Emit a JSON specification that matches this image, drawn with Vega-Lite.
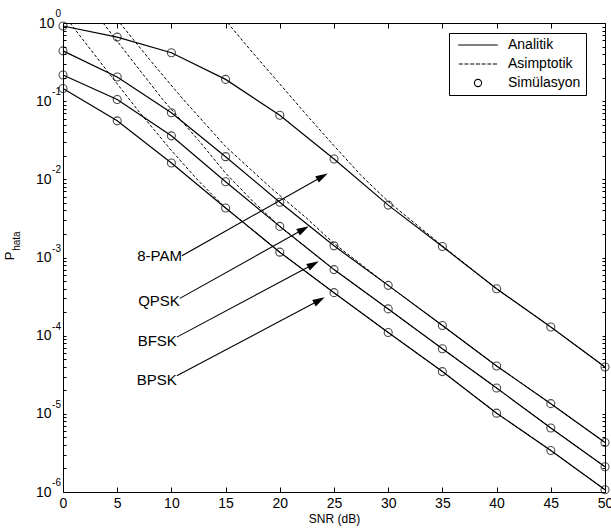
{
  "$schema": "https://vega.github.io/schema/vega-lite/v6.json",
  "width": 542,
  "height": 469,
  "autosize": {"type": "none"},
  "padding": {"left": 63, "top": 23, "right": 6, "bottom": 37},
  "background": "white",
  "config": {"view": {"stroke": "black", "strokeWidth": 1}, "font": "Liberation Sans"},
  "resolve": {"axis": {"x": "independent", "y": "independent"}},
  "datasets": {
    "analitik": [
      {"m": "8-PAM", "snr": 0, "p": 0.916}, {"m": "8-PAM", "snr": 5, "p": 0.66}, {"m": "8-PAM", "snr": 10, "p": 0.417}, {"m": "8-PAM", "snr": 15, "p": 0.19}, {"m": "8-PAM", "snr": 20, "p": 0.066}, {"m": "8-PAM", "snr": 25, "p": 0.0182}, {"m": "8-PAM", "snr": 30, "p": 0.00468}, {"m": "8-PAM", "snr": 35, "p": 0.00138}, {"m": "8-PAM", "snr": 40, "p": 0.000398}, {"m": "8-PAM", "snr": 45, "p": 0.000129}, {"m": "8-PAM", "snr": 50, "p": 0.0000398},
      {"m": "QPSK", "snr": 0, "p": 0.44}, {"m": "QPSK", "snr": 5, "p": 0.204}, {"m": "QPSK", "snr": 10, "p": 0.071}, {"m": "QPSK", "snr": 15, "p": 0.0195}, {"m": "QPSK", "snr": 20, "p": 0.0051}, {"m": "QPSK", "snr": 25, "p": 0.00141}, {"m": "QPSK", "snr": 30, "p": 0.00044}, {"m": "QPSK", "snr": 35, "p": 0.000135}, {"m": "QPSK", "snr": 40, "p": 0.000041}, {"m": "QPSK", "snr": 45, "p": 0.0000135}, {"m": "QPSK", "snr": 50, "p": 0.0000043},
      {"m": "BFSK", "snr": 0, "p": 0.216}, {"m": "BFSK", "snr": 5, "p": 0.105}, {"m": "BFSK", "snr": 10, "p": 0.036}, {"m": "BFSK", "snr": 15, "p": 0.0093}, {"m": "BFSK", "snr": 20, "p": 0.0025}, {"m": "BFSK", "snr": 25, "p": 0.0007}, {"m": "BFSK", "snr": 30, "p": 0.00022}, {"m": "BFSK", "snr": 35, "p": 0.000068}, {"m": "BFSK", "snr": 40, "p": 0.0000214}, {"m": "BFSK", "snr": 45, "p": 0.0000066}, {"m": "BFSK", "snr": 50, "p": 0.0000021},
      {"m": "BPSK", "snr": 0, "p": 0.145}, {"m": "BPSK", "snr": 5, "p": 0.056}, {"m": "BPSK", "snr": 10, "p": 0.0162}, {"m": "BPSK", "snr": 15, "p": 0.0043}, {"m": "BPSK", "snr": 20, "p": 0.00117}, {"m": "BPSK", "snr": 25, "p": 0.000355}, {"m": "BPSK", "snr": 30, "p": 0.00011}, {"m": "BPSK", "snr": 35, "p": 0.0000347}, {"m": "BPSK", "snr": 40, "p": 0.0000102}, {"m": "BPSK", "snr": 45, "p": 0.0000034}, {"m": "BPSK", "snr": 50, "p": 0.00000107}
    ],
    "asimptotik": [
      {"m": "8-PAM", "snr": 15.2, "p": 1}, {"m": "8-PAM", "snr": 17.5, "p": 0.417}, {"m": "8-PAM", "snr": 20, "p": 0.166}, {"m": "8-PAM", "snr": 22.5, "p": 0.066}, {"m": "8-PAM", "snr": 25, "p": 0.0269}, {"m": "8-PAM", "snr": 27.5, "p": 0.0112}, {"m": "8-PAM", "snr": 30, "p": 0.0052}, {"m": "8-PAM", "snr": 35, "p": 0.00141}, {"m": "8-PAM", "snr": 40, "p": 0.000398}, {"m": "8-PAM", "snr": 45, "p": 0.000129}, {"m": "8-PAM", "snr": 50, "p": 0.0000398},
      {"m": "QPSK", "snr": 5.25, "p": 1}, {"m": "QPSK", "snr": 8, "p": 0.339}, {"m": "QPSK", "snr": 11.1, "p": 0.105}, {"m": "QPSK", "snr": 15, "p": 0.0263}, {"m": "QPSK", "snr": 19.1, "p": 0.00794}, {"m": "QPSK", "snr": 22.5, "p": 0.00316}, {"m": "QPSK", "snr": 25, "p": 0.00151}, {"m": "QPSK", "snr": 30, "p": 0.00044}, {"m": "QPSK", "snr": 35, "p": 0.000135}, {"m": "QPSK", "snr": 40, "p": 0.000041}, {"m": "QPSK", "snr": 45, "p": 0.0000135}, {"m": "QPSK", "snr": 50, "p": 0.0000043},
      {"m": "BFSK", "snr": 3.7, "p": 1}, {"m": "BFSK", "snr": 6.5, "p": 0.316}, {"m": "BFSK", "snr": 9.2, "p": 0.105}, {"m": "BFSK", "snr": 12.5, "p": 0.0316}, {"m": "BFSK", "snr": 15, "p": 0.012}, {"m": "BFSK", "snr": 17.5, "p": 0.00525}, {"m": "BFSK", "snr": 20, "p": 0.0025}, {"m": "BFSK", "snr": 25, "p": 0.0007}, {"m": "BFSK", "snr": 30, "p": 0.00022}, {"m": "BFSK", "snr": 35, "p": 0.000068}, {"m": "BFSK", "snr": 40, "p": 0.0000214}, {"m": "BFSK", "snr": 45, "p": 0.0000066}, {"m": "BFSK", "snr": 50, "p": 0.0000021},
      {"m": "BPSK", "snr": 0.65, "p": 1}, {"m": "BPSK", "snr": 4, "p": 0.251}, {"m": "BPSK", "snr": 7.1, "p": 0.0708}, {"m": "BPSK", "snr": 10, "p": 0.0234}, {"m": "BPSK", "snr": 12.5, "p": 0.00955}, {"m": "BPSK", "snr": 15, "p": 0.0043}, {"m": "BPSK", "snr": 20, "p": 0.00117}, {"m": "BPSK", "snr": 25, "p": 0.000355}, {"m": "BPSK", "snr": 30, "p": 0.00011}, {"m": "BPSK", "snr": 35, "p": 0.0000347}, {"m": "BPSK", "snr": 40, "p": 0.0000102}, {"m": "BPSK", "snr": 45, "p": 0.0000034}, {"m": "BPSK", "snr": 50, "p": 0.00000107}
    ],
    "oklar": [
      {"m": "8-PAM", "x1": 10.97, "y1": 0.00105, "x2": 23.93, "y2": 0.0109, "ly": 0.00105},
      {"m": "QPSK", "x1": 10.78, "y1": 0.0003, "x2": 22.18, "y2": 0.0023, "ly": 0.000279},
      {"m": "BFSK", "x1": 10.5, "y1": 0.0000958, "x2": 23.1, "y2": 0.000818, "ly": 0.0000859},
      {"m": "BPSK", "x1": 10.5, "y1": 0.0000308, "x2": 23.65, "y2": 0.000284, "ly": 0.0000272}
    ],
    "us": [
      {"v": 1, "e": "0"}, {"v": 0.1, "e": "-1"}, {"v": 0.01, "e": "-2"}, {"v": 0.001, "e": "-3"}, {"v": 0.0001, "e": "-4"}, {"v": 0.00001, "e": "-5"}, {"v": 0.000001, "e": "-6"}
    ],
    "lejant": [{"k": "Analitik"}, {"k": "Asimptotik"}, {"k": "Simülasyon"}]
  },
  "layer": [
    {
      "data": {"name": "asimptotik"},
      "mark": {"type": "line", "color": "black", "strokeWidth": 1, "strokeDash": [3, 2], "clip": true},
      "encoding": {
        "x": {"field": "snr", "type": "quantitative", "scale": {"domain": [0, 50], "nice": false},
          "axis": {"orient": "bottom", "title": "SNR (dB)", "values": [0,5,10,15,20,25,30,35,40,45,50], "grid": false, "domain": false, "tickSize": -5, "tickColor": "black", "labelColor": "black", "labelFont": "Liberation Sans", "labelFontSize": 14, "titleFont": "Liberation Sans", "titleFontSize": 12, "titleFontWeight": "normal", "titleColor": "black", "labelPadding": 9, "titlePadding": 3, "labelFlush": false, "labelOverlap": false}},
        "y": {"field": "p", "type": "quantitative", "scale": {"type": "log", "domain": [0.000001, 1], "nice": false},
          "axis": {"orient": "left", "title": null, "values": [0.000001,0.000002,0.000003,0.000004,0.000005,0.000006,0.000007,0.000008,0.000009,0.00001,0.00002,0.00003,0.00004,0.00005,0.00006,0.00007,0.00008,0.00009,0.0001,0.0002,0.0003,0.0004,0.0005,0.0006,0.0007,0.0008,0.0009,0.001,0.002,0.003,0.004,0.005,0.006,0.007,0.008,0.009,0.01,0.02,0.03,0.04,0.05,0.06,0.07,0.08,0.09,0.1,0.2,0.3,0.4,0.5,0.6,0.7,0.8,0.9,1],
            "labelExpr": "abs(log(datum.value)/LN10 - round(log(datum.value)/LN10)) < 0.001 ? '10' : ''",
            "grid": false, "domain": false, "tickSize": -3, "tickColor": "black", "labelColor": "black", "labelFont": "Liberation Sans", "labelFontSize": 14, "labelPadding": {"condition": {"test": "datum.value == 1", "value": 12}, "value": 15}, "labelBaseline": "middle", "labelOverlap": false, "labelFlush": false}},
        "detail": {"field": "m"},
        "order": {"field": "snr", "type": "quantitative"}
      }
    },
    {
      "data": {"name": "analitik"},
      "mark": {"type": "line", "color": "black", "strokeWidth": 1.2},
      "encoding": {
        "x": {"field": "snr", "type": "quantitative", "axis": null},
        "y": {"field": "p", "type": "quantitative", "axis": null},
        "detail": {"field": "m"}
      }
    },
    {
      "data": {"name": "analitik"},
      "mark": {"type": "point", "shape": "circle", "size": 64, "color": "black", "strokeWidth": 1.1, "filled": false, "clip": false},
      "encoding": {
        "x": {"field": "snr", "type": "quantitative", "axis": null},
        "y": {"field": "p", "type": "quantitative", "axis": null}
      }
    },
    {
      "data": {"name": "oklar"},
      "mark": {"type": "rule", "color": "black", "strokeWidth": 1.1},
      "encoding": {
        "x": {"field": "x1", "type": "quantitative", "axis": null},
        "y": {"field": "y1", "type": "quantitative", "axis": null},
        "x2": {"field": "x2"},
        "y2": {"field": "y2"}
      }
    },
    {
      "data": {"name": "oklar"},
      "mark": {"type": "point", "shape": "M1,0L-1,-0.6L-1,0.6Z", "size": 150, "angle": -29, "filled": true, "color": "black", "opacity": 1},
      "encoding": {
        "x": {"field": "x2", "type": "quantitative", "axis": null},
        "y": {"field": "y2", "type": "quantitative", "axis": null}
      }
    },
    {
      "data": {"name": "oklar"},
      "mark": {"type": "text", "align": "right", "baseline": "middle", "fontSize": 15, "font": "Liberation Sans", "color": "black"},
      "encoding": {
        "x": {"field": "x1", "type": "quantitative", "axis": null},
        "y": {"field": "ly", "type": "quantitative", "axis": null},
        "text": {"field": "m"}
      }
    },
    {
      "data": {"name": "us"},
      "mark": {"type": "text", "align": "right", "baseline": "middle", "fontSize": 10, "font": "Liberation Sans", "color": "black", "dx": -2, "dy": -9, "clip": false},
      "encoding": {
        "x": {"datum": 0, "type": "quantitative", "axis": null},
        "y": {"field": "v", "type": "quantitative", "axis": null},
        "text": {"field": "e"}
      }
    },
    {
      "data": {"values": [{}]},
      "mark": {"type": "text", "text": "P", "angle": 270, "align": "center", "baseline": "middle", "fontSize": 13, "font": "Liberation Sans", "color": "black", "clip": false},
      "encoding": {
        "x": {"datum": -4.89, "type": "quantitative", "axis": null},
        "y": {"datum": 0.00105, "type": "quantitative", "axis": null}
      }
    },
    {
      "data": {"values": [{}]},
      "mark": {"type": "text", "text": "hata", "angle": 270, "align": "center", "baseline": "middle", "fontSize": 10, "font": "Liberation Sans", "color": "black", "clip": false},
      "encoding": {
        "x": {"datum": -4.2, "type": "quantitative", "axis": null},
        "y": {"datum": 0.00162, "type": "quantitative", "axis": null}
      }
    },
    {
      "data": {"name": "lejant"},
      "mark": {"type": "point", "color": "black", "filled": false, "clip": true, "strokeWidth": 1.1},
      "encoding": {
        "x": {"datum": -20, "type": "quantitative",
          "axis": {"orient": "top", "title": null, "values": [0,5,10,15,20,25,30,35,40,45,50], "labels": false, "grid": false, "domain": false, "tickSize": -5, "tickColor": "black"}},
        "y": {"datum": 0.5, "type": "quantitative",
          "axis": {"orient": "right", "title": null, "values": [0.000001,0.000002,0.000003,0.000004,0.000005,0.000006,0.000007,0.000008,0.000009,0.00001,0.00002,0.00003,0.00004,0.00005,0.00006,0.00007,0.00008,0.00009,0.0001,0.0002,0.0003,0.0004,0.0005,0.0006,0.0007,0.0008,0.0009,0.001,0.002,0.003,0.004,0.005,0.006,0.007,0.008,0.009,0.01,0.02,0.03,0.04,0.05,0.06,0.07,0.08,0.09,0.1,0.2,0.3,0.4,0.5,0.6,0.7,0.8,0.9,1], "labels": false, "grid": false, "domain": false, "tickSize": -3, "tickColor": "black"}},
        "shape": {"field": "k", "type": "nominal",
          "scale": {"domain": ["Analitik", "Asimptotik", "Simülasyon"], "range": ["M-3.3,0H3.3", "M-3.2,0h0.67m0.28,0h0.67m0.28,0h0.67m0.28,0h0.67m0.28,0h0.67m0.28,0h0.67m0.28,0h0.67", "M-0.6,0a0.6,0.6 0 1,0 1.2,0a0.6,0.6 0 1,0 -1.2,0"]},
          "legend": {"orient": "none", "legendX": 386, "legendY": 10, "title": null, "padding": 5, "strokeColor": "black", "fillColor": "white", "symbolSize": 144, "symbolStrokeColor": "black", "symbolFillColor": "transparent", "symbolStrokeWidth": 1.1, "symbolOpacity": 1, "symbolOffset": 17, "labelOffset": 23, "labelFontSize": 14, "labelFont": "Liberation Sans", "labelColor": "black", "rowPadding": 5, "labelAlign": "left"}}
      }
    }
  ]
}
